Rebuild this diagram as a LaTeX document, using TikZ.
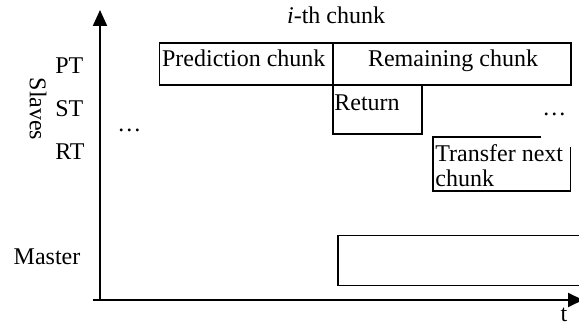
\documentclass[tikz,border=0pt]{standalone}
\usepackage{fontspec}
\setmainfont{Liberation Serif}
\usetikzlibrary{arrows.meta}
\begin{document}
\begin{tikzpicture}[x=0.5pt,y=-0.5pt,
  box/.style={draw=black,line width=0.8pt},
  axis/.style={draw=black,line width=1pt},
  lbl/.style={inner sep=0pt,anchor=base west,font=\fontsize{12}{14}\selectfont},
  clbl/.style={inner sep=0pt,anchor=base,font=\fontsize{12}{14}\selectfont}]
\clip (0,0) rectangle (579,324);
\fill[white] (0,0) rectangle (579,324);
% axes
\coordinate (o) at (100,300);
\coordinate (ytop) at (100,10);
\coordinate (xstart) at (92.7,300);
\coordinate (xend) at (583,300);
\draw[axis,-{Triangle[width=7pt,length=8pt]}] (o) -- (ytop);
\draw[axis,-{Triangle[width=7pt,length=7.5pt]}] (xstart) -- (xend);
% boxes
\draw[box] (159.3,43.3) rectangle (332.7,85);
\draw[box] (332.7,43.3) rectangle (570.7,85);
\draw[box] (332.7,85) rectangle (421.7,134.3);
\draw[box] (541,137.3) -- (433,137.3) -- (433,191) -- (570.3,191) -- (570.3,146.7);
\draw[box] (337.7,235.7) rectangle (600,285.7);
% labels
\node[lbl] (ith) at (286.7,23.3) {\textit{i}-th chunk};
\node[lbl] (pt) at (55,73.3) {PT};
\node[lbl] (st) at (55,116.7) {ST};
\node[lbl] (rt) at (55,160) {RT};
\node[inner sep=0pt,rotate=-90,font=\fontsize{12}{14}\selectfont] (slaves) at (38,109) {Slaves};
\node[lbl] (ldots) at (117,131.5) {…};
\node[lbl] (rdots) at (542,116) {…};
\node[lbl] (pred) at (161.7,66.7) {Prediction chunk};
\node[clbl] (rem) at (453,66.7) {Remaining chunk};
\node[lbl] (ret) at (334,110.7) {Return};
\node[lbl] (tr1) at (435,161.7) {Transfer next};
\node[lbl] (tr2) at (435,186.7) {chunk};
\node[lbl] (master) at (13.3,265) {Master};
\node[clbl] (t) at (564,321.5) {t};
\end{tikzpicture}
\end{document}
